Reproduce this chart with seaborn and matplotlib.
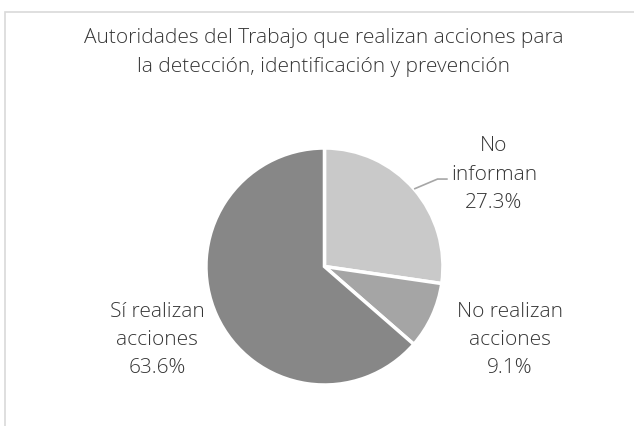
import numpy as np
import matplotlib.pyplot as plt
import seaborn as sns
from matplotlib.patches import Rectangle

# Data
categories = ['No\ninforman', 'No realizan\nacciones', 'Sí realizan\nacciones']
values = [27.3, 9.1, 63.6]
colors = ['#c9c9c9', '#a5a5a5', '#878787']
title = 'Autoridades del Trabajo que realizan acciones para\nla detección, identificación y prevención'

sns.set_style('white')
plt.rcParams['font.family'] = ['Open Sans', 'DejaVu Sans']

fig = plt.figure(figsize=(6.34, 4.26), dpi=100)
ax = fig.add_axes([0, 0, 1, 1])

wedges, _ = ax.pie(values, colors=colors, startangle=90, counterclock=False,
                   radius=1, center=(0, 0), frame=True,
                   wedgeprops=dict(edgecolor='white', linewidth=2.5))
ax.set_xlim(-2.738, 2.612)
ax.set_ylim(-1.346, 2.249)
ax.set_aspect('auto')
ax.axis('off')

# label positions (outside end)
label_pos = [(1.43, 0.775), (1.565, -0.62), (-1.413, -0.62)]
for cat, v, (x, y) in zip(categories, values, label_pos):
    ax.text(x, y, f'{cat}\n{v:.1f}%', ha='center', va='center', fontsize=15,
            fontweight='light', color='#363636', linespacing=1.55)

# leader line for "No informan"
w = wedges[0]
mid = np.deg2rad((w.theta1 + w.theta2) / 2)
ax.plot([np.cos(mid), 0.954, 1.04], [np.sin(mid), 0.738, 0.738],
        color='#a6a6a6', linewidth=1.2, solid_capstyle='butt')

fig.text(0.511, 0.877, title, ha='center', va='center', fontsize=15,
         fontweight='light', color='#363636', linespacing=1.55)

# chart border
fig.patches.append(Rectangle((5 / 634, -0.1), 1.2, (426 - 12) / 426 + 0.1,
                             transform=fig.transFigure, fill=False,
                             edgecolor='#d9d9d9', linewidth=1.2))

plt.savefig('out.png', dpi=100)
